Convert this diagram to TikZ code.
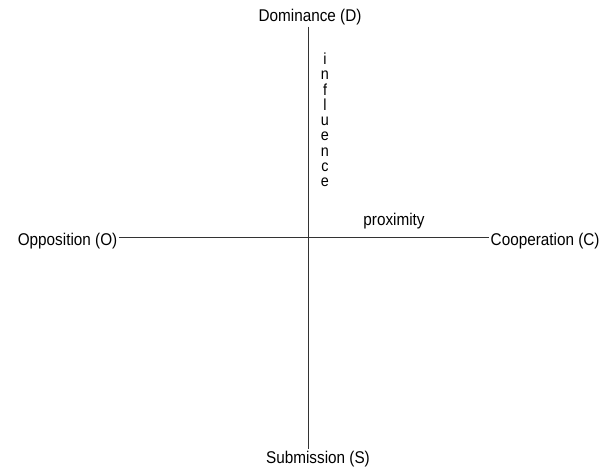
\documentclass[tikz,border=0pt]{standalone}
\usepackage{fontspec}
\setmainfont{Liberation Sans}[FakeStretch=0.9]
\begin{document}
\begin{tikzpicture}[x=1pt,y=-1pt,
  lbl/.style={inner sep=1.5pt,font=\fontsize{17}{17}\selectfont},
  axis/.style={draw=black!80,line width=0.8pt}]
\useasboundingbox (0,0) rectangle (603,470);
\node[lbl] (D) at (310,17) {Dominance (D)};
\node[lbl] (S) at (318,459) {Submission (S)};
\node[lbl,anchor=east] (O) at (119,241) {Opposition (O)};
\node[lbl,anchor=west] (C) at (489,241) {Cooperation (C)};
\node[lbl] (P) at (394,221) {proximity};
\node[lbl,align=center,font=\fontsize{16}{15.25}\selectfont] (I) at (325,120) {i\\n\\f\\l\\u\\e\\n\\c\\e};
\coordinate (X) at (308,237);
\draw[axis] (D.south -| X) -- (S.north -| X);
\draw[axis] (O.east |- X) -- (C.west |- X);
\end{tikzpicture}
\end{document}
